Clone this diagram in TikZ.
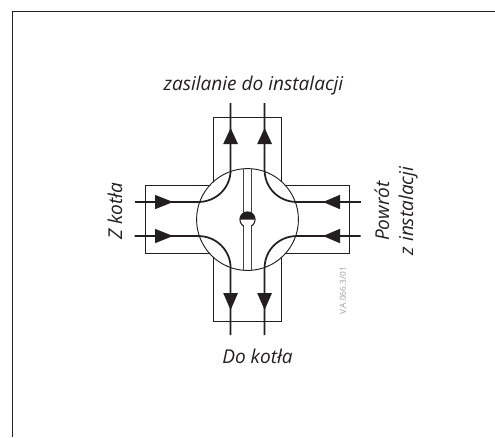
\documentclass[tikz,border=0pt]{standalone}
\usepackage{fontspec}
\setmainfont{Open Sans}
\definecolor{ink}{HTML}{231F20}
\tikzset{
  x=0.75pt,y=-0.75pt,
  frameline/.style={draw=ink,line width=1.1pt},
  boxline/.style={draw=ink,line width=0.7pt},
  pipe/.style={draw=ink,line width=1.3pt},
  stem/.style={draw=ink!85,line width=0.9pt},
  tri/.style={fill=ink,draw=none},
  lbl/.style={font=\fontsize{14.3}{18}\selectfont\itshape,text=ink,inner sep=0pt,align=center}
}
\begin{document}
\begin{tikzpicture}
\useasboundingbox (0,0) rectangle (495,437);
\fill[white] (0,0) rectangle (495,437);
\coordinate (fa) at (12.4,437);
\coordinate (fb) at (12.4,11.7);
\coordinate (fc) at (495,11.7);
\draw[frameline] (fa) -- (fb) -- (fc);
% cross outline
\coordinate (c) at (247.5,219.5);
\draw[boxline] (213.5,185) -- (213.5,117.5) -- (281.5,117.5) -- (281.5,185) -- (349.5,185) -- (349.5,253) -- (281.5,253) -- (281.5,321) -- (213.5,321) -- (213.5,253) -- (145.5,253) -- (145.5,185) -- cycle;
\node[circle,draw=ink,line width=0.7pt,fill=white,minimum size=76.4pt,inner sep=0pt] (disc) at (c) {};
% spindle
\draw[stem] (243.3,168.5) -- (243.3,216) (251.7,168.5) -- (251.7,216);
\draw[stem] (243.3,225) -- (243.3,270.5) (251.7,225) -- (251.7,270.5);
\draw[ink,line width=0.8pt,fill=white] (c) circle (7.6);
\fill[ink] (239.9,219.5) arc (180:360:7.6) -- cycle;
\fill[white] (243.8,224) rectangle (251.2,229);
% pipes
\draw[pipe] (230.6,103) -- (230.6,170) .. controls (230.6,188) and (216,202) .. (198,202);
\draw[pipe] (264.6,103) -- (264.6,170) .. controls (264.6,188) and (279,202) .. (297,202);
\draw[pipe] (134.5,202) -- (198,202);
\draw[pipe] (297,202) -- (360.5,202);
\draw[pipe] (134.5,236) -- (198,236) .. controls (216,236) and (230.6,250) .. (230.6,268) -- (230.6,335);
\draw[pipe] (360.5,236) -- (297,236) .. controls (279,236) and (264.6,250) .. (264.6,268) -- (264.6,335);
% arrowheads
\fill[tri] (230.6,128) -- (223.2,144) -- (238,144) -- cycle;
\fill[tri] (264.6,128) -- (257.2,144) -- (272,144) -- cycle;
\fill[tri] (230.6,310) -- (223.2,293) -- (238,293) -- cycle;
\fill[tri] (264.6,310) -- (257.2,293) -- (272,293) -- cycle;
\fill[tri] (173,202) -- (155,194.8) -- (155,209.2) -- cycle;
\fill[tri] (173,236) -- (155,228.8) -- (155,243.2) -- cycle;
\fill[tri] (323,202) -- (340,194.8) -- (340,209.2) -- cycle;
\fill[tri] (323,236) -- (340,228.8) -- (340,243.2) -- cycle;
% labels
\node[lbl] (top) at (253.5,86) {zasilanie do instalacji};
\node[lbl] (bot) at (257.5,356) {Do kotła};
\node[lbl,rotate=90] (left) at (115,211) {Z kotła};
\node[lbl,rotate=90] (right) at (396,211) {Powrót\\z instalacji};
\node[font=\fontsize{6.2}{7}\selectfont,text=black!38,rotate=90,inner sep=0pt] (code) at (343,291) {V.A.066.3/01};
\end{tikzpicture}
\end{document}
